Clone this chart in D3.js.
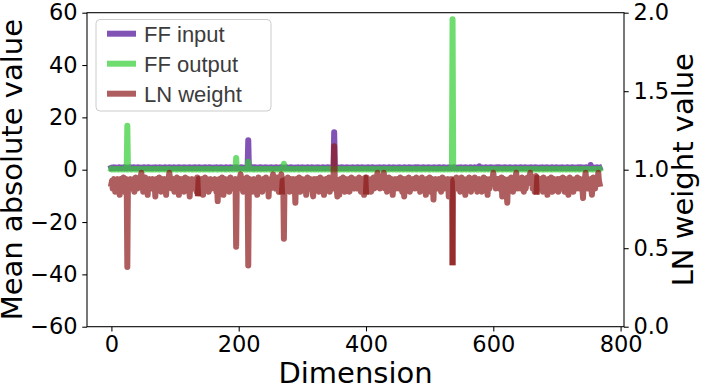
<!DOCTYPE html>
<html>
<head>
<meta charset="utf-8">
<script src="https://d3js.org/d3.v7.min.js"></script>
<style>
  body { margin: 0; background: #fff; }
  svg { display: block; }
</style>
</head>
<body>
<div id="chart"></div>
<script>
// Mean absolute value of FF input per hidden dimension (768 dims)
const ffInput = [
  0.7,0.8,0.6,0.7,0.9,0.7,0.6,0.8,0.7,0.7,0.8,0.6,0.9,0.7,0.8,0.7,0.6,0.7,0.8,0.7,0.9,0.6,0.7,0.8,0.7,0.6,0.8,0.7,0.7,0.9,0.6,0.8,
  0.8,0.7,0.6,0.9,0.7,0.8,0.7,0.6,0.8,0.7,0.9,0.7,0.6,0.8,0.7,0.7,0.8,0.6,0.7,0.9,0.7,0.8,0.6,0.7,0.8,0.7,0.9,0.6,0.7,0.8,0.7,0.6,
  0.7,0.6,0.8,0.7,0.7,0.9,0.6,0.8,0.7,0.8,0.6,0.7,0.9,0.7,0.6,0.8,0.7,0.7,0.8,0.6,0.9,0.7,0.8,0.7,0.6,0.7,0.8,0.9,0.7,0.6,0.8,0.7,
  0.8,0.6,0.9,0.7,0.7,0.8,0.6,0.7,0.8,0.7,0.9,0.6,0.7,0.8,0.7,0.6,0.7,0.8,0.9,0.7,0.6,0.8,0.7,0.7,0.8,0.6,0.7,0.9,0.8,0.7,0.6,0.7,
  0.8,0.7,0.6,0.9,0.7,0.8,0.7,0.6,0.8,0.7,0.9,0.7,0.6,0.8,0.7,0.7,0.8,0.6,0.7,0.9,0.7,0.8,0.6,0.7,0.8,0.7,0.9,0.6,0.7,0.8,0.7,0.6,
  0.7,0.6,0.8,0.7,0.7,0.9,0.6,0.8,0.7,0.8,0.6,0.7,0.9,0.7,0.6,0.8,0.7,0.7,0.8,0.6,0.9,0.7,0.8,0.7,0.6,0.7,0.8,0.9,0.7,0.6,0.8,0.7,
  0.7,0.8,0.6,0.7,0.9,0.7,0.6,0.8,0.7,0.7,0.8,0.6,0.9,0.7,0.8,0.7,0.6,0.7,0.8,0.7,0.9,0.6,0.7,11.3,0.7,0.6,0.8,0.7,0.7,0.9,0.6,0.8,
  0.8,0.6,0.9,0.7,0.7,0.8,0.6,0.7,0.8,0.7,0.9,0.6,0.7,0.8,0.7,0.6,0.7,0.8,0.9,0.7,0.6,0.8,0.7,0.7,0.8,0.6,0.7,0.9,0.8,0.7,0.6,0.7,
  0.8,0.7,0.6,0.9,0.7,0.8,0.7,0.6,0.8,0.7,0.9,0.7,0.6,0.8,0.7,0.7,0.8,0.6,0.7,0.9,0.7,0.8,0.6,0.7,0.8,0.7,0.9,0.6,0.7,0.8,0.7,0.6,
  0.7,0.6,0.8,0.7,0.7,0.9,0.6,0.8,0.7,0.8,0.6,0.7,0.9,0.7,0.6,0.8,0.7,0.7,0.8,0.6,0.9,0.7,0.8,0.7,0.6,0.7,0.8,0.9,0.7,0.6,0.8,0.7,
  0.7,0.8,0.6,0.7,0.9,0.7,0.6,0.8,0.7,0.7,0.8,0.6,0.9,0.7,0.8,0.7,0.6,0.7,0.8,0.7,0.9,0.6,0.7,0.8,0.7,0.6,0.8,0.7,0.7,0.9,14.3,0.8,
  0.8,0.6,0.9,0.7,0.7,0.8,0.6,0.7,0.8,0.7,0.9,0.6,0.7,0.8,0.7,0.6,0.7,0.8,0.9,0.7,0.6,0.8,0.7,0.7,0.8,0.6,0.7,0.9,0.8,0.7,0.6,0.7,
  0.8,0.7,0.6,0.9,0.7,0.8,0.7,0.6,0.8,0.7,0.9,0.7,0.6,0.8,0.7,0.7,0.8,0.6,0.7,0.9,0.7,0.8,0.6,0.7,0.8,0.7,0.9,0.6,0.7,0.8,0.7,0.6,
  0.7,0.6,0.8,0.7,0.7,0.9,0.6,0.8,0.7,0.8,0.6,0.7,0.9,0.7,0.6,0.8,0.7,0.7,0.8,0.6,0.9,0.7,0.8,0.7,0.6,0.7,0.8,0.9,0.7,0.6,0.8,0.7,
  0.7,0.8,0.6,0.7,0.9,0.7,0.6,0.8,0.7,0.7,0.8,0.6,0.9,0.7,0.8,0.7,0.6,0.7,0.8,0.7,0.9,0.6,0.7,0.8,0.7,0.6,0.8,0.7,0.7,0.9,0.6,0.8,
  0.8,0.6,0.9,0.7,0.7,0.8,0.6,0.7,0.8,0.7,0.9,0.6,0.7,0.8,0.7,0.6,0.7,0.8,0.9,0.7,0.6,0.8,0.7,0.7,0.8,0.6,0.7,0.9,0.8,0.7,0.6,0.7,
  0.8,0.7,0.6,0.9,0.7,0.8,0.7,0.6,0.8,0.7,0.9,0.7,0.6,0.8,0.7,0.7,0.8,0.6,0.7,0.9,0.7,0.8,0.6,0.7,0.8,0.7,0.9,0.6,0.7,0.8,0.7,0.6,
  0.7,0.6,0.8,0.7,0.7,0.9,0.6,0.8,0.7,0.8,0.6,0.7,0.9,0.7,0.6,0.8,0.7,0.7,0.8,0.6,0.9,0.7,0.8,0.7,0.6,0.7,0.8,0.9,0.7,0.6,0.8,0.7,
  0.7,0.8,1.3,0.7,0.9,0.7,0.6,0.8,0.7,0.7,0.8,0.6,0.9,0.7,0.8,0.7,0.6,0.7,0.8,0.7,0.9,0.6,0.7,0.8,0.7,0.6,0.8,0.7,0.7,0.9,0.6,0.8,
  0.8,0.6,0.9,0.7,0.7,0.8,0.6,0.7,0.8,0.7,0.9,0.6,0.7,0.8,0.7,0.6,0.7,0.8,0.9,0.7,0.6,0.8,0.7,0.7,0.8,0.6,0.7,0.9,0.8,0.7,0.6,0.7,
  0.8,0.7,0.6,0.9,0.7,0.8,0.7,0.6,0.8,0.7,0.9,0.7,0.6,0.8,0.7,0.7,0.8,0.6,0.7,0.9,0.7,0.8,0.6,0.7,0.8,0.7,0.9,0.6,0.7,0.8,0.7,0.6,
  0.7,0.6,0.8,0.7,0.7,0.9,0.6,0.8,0.7,0.8,0.6,0.7,0.9,0.7,0.6,0.8,0.7,0.7,0.8,0.6,0.9,0.7,0.8,0.7,0.6,0.7,0.8,0.9,0.7,0.6,0.8,0.7,
  0.7,0.8,0.6,0.7,0.9,0.7,0.6,0.8,0.7,0.7,0.8,0.6,0.9,0.7,0.8,0.7,0.6,0.7,0.8,0.7,0.9,0.6,0.7,0.8,0.7,0.6,0.8,0.7,0.7,0.9,0.6,0.8,
  0.8,0.6,0.9,0.7,0.7,0.8,0.6,0.7,0.8,0.7,0.9,0.6,0.7,0.8,0.7,0.6,0.7,1.8,0.9,0.7,0.6,0.8,0.7,0.7,0.8,0.6,0.7,0.9,0.8,0.7,0.6,0.7
];

// Mean absolute value of FF output per dimension
const ffOutput = [
  0.2,0.1,0.2,0.3,0.2,0.1,0.2,0.2,0.3,0.1,0.2,0.2,0.1,0.3,0.2,0.2,0.1,0.2,0.3,0.2,0.1,0.2,0.2,0.3,0.1,16.8,0.2,0.1,0.3,0.2,0.2,0.1,
  0.1,0.2,0.3,0.2,0.2,0.1,0.3,0.2,0.1,0.2,0.2,0.3,0.2,0.1,0.2,0.3,0.2,0.2,0.1,0.2,0.3,0.1,0.2,0.2,0.3,0.2,0.1,0.2,0.2,0.3,0.1,0.2,
  0.2,0.1,0.2,0.3,0.2,0.1,0.2,0.2,0.3,0.1,0.2,0.2,0.1,0.3,0.2,0.2,0.1,0.2,0.3,0.2,0.1,0.2,0.2,0.3,0.1,0.2,0.2,0.1,0.3,0.2,0.2,0.1,
  0.1,0.2,0.3,0.2,0.2,0.1,0.3,0.2,0.1,0.2,0.2,0.3,0.2,0.1,0.2,0.3,0.2,0.2,0.1,0.2,0.3,0.1,0.2,0.2,0.3,0.2,0.1,0.2,0.2,0.3,0.1,0.2,
  0.2,0.1,0.2,0.3,0.2,0.1,0.2,0.2,0.3,0.1,0.2,0.2,0.1,0.3,0.2,0.2,0.1,0.2,0.3,0.2,0.1,0.2,0.2,0.3,0.1,0.2,0.2,0.1,0.3,0.2,0.2,0.1,
  0.1,0.2,0.3,0.2,0.2,0.1,0.3,0.2,0.1,0.2,0.2,0.3,0.2,0.1,0.2,0.3,0.2,0.2,0.1,0.2,0.3,0.1,0.2,0.2,0.3,0.2,0.1,0.2,0.2,0.3,0.1,0.2,
  0.1,0.2,0.3,0.2,4.5,0.1,0.3,0.2,0.1,0.2,0.2,0.3,0.2,0.1,0.2,0.3,0.2,0.2,0.1,0.2,0.3,0.1,0.2,3.0,0.3,0.2,0.1,0.2,0.2,0.3,0.1,0.2,
  0.2,0.1,0.2,0.3,0.2,0.1,0.2,0.2,0.3,0.1,0.2,0.2,0.1,0.3,0.2,0.2,0.1,0.2,0.3,0.2,0.1,0.2,0.2,0.3,0.1,0.2,0.2,0.1,0.3,0.2,0.2,0.1,
  0.2,0.1,0.2,0.3,0.2,0.1,0.2,0.2,0.3,0.1,0.2,0.2,0.1,0.3,0.2,2.3,0.1,0.2,0.3,0.2,0.1,0.2,0.2,0.3,0.1,0.2,0.2,0.1,0.3,0.2,0.2,0.1,
  0.1,0.2,0.3,0.2,0.2,0.1,0.3,0.2,0.1,0.2,0.2,0.3,0.2,0.1,0.2,0.3,0.2,0.2,0.1,0.2,0.3,0.1,0.2,0.2,0.3,0.2,0.1,0.2,0.2,0.3,0.1,0.2,
  0.2,0.1,0.2,0.3,0.2,0.1,0.2,0.2,0.3,0.1,0.2,0.2,0.1,0.3,0.2,0.2,0.1,0.2,0.3,0.2,0.1,0.2,0.2,0.3,0.1,0.2,0.2,0.1,0.3,0.2,0.2,0.1,
  0.1,0.2,0.3,0.2,0.2,0.1,0.3,0.2,0.1,0.2,0.2,0.3,0.2,0.1,0.2,0.3,0.2,0.2,0.1,0.2,0.3,0.1,0.2,0.2,0.3,0.2,0.1,0.2,0.2,0.3,0.1,0.2,
  0.2,0.1,0.2,0.3,0.2,0.1,0.2,0.2,0.3,0.1,0.2,0.2,0.1,0.3,0.2,0.2,0.1,0.2,0.3,0.2,0.1,0.2,0.2,0.3,0.1,0.2,0.2,0.1,0.3,0.2,0.2,0.1,
  0.1,0.2,0.3,0.2,0.2,0.1,0.3,0.2,0.1,0.2,0.2,0.3,0.2,0.1,0.2,0.3,0.2,0.2,0.1,0.2,0.3,0.1,0.2,0.2,0.3,0.2,0.1,0.2,0.2,0.3,0.1,0.2,
  0.2,0.1,0.2,0.3,0.2,0.1,0.2,0.2,0.3,0.1,0.2,0.2,0.1,0.3,0.2,0.2,0.1,0.2,0.3,0.2,0.1,0.2,0.2,0.3,0.1,0.2,0.2,0.1,0.3,0.2,0.2,0.1,
  0.1,0.2,0.3,0.2,0.2,0.1,0.3,0.2,0.1,0.2,0.2,0.3,0.2,0.1,0.2,0.3,0.2,0.2,0.1,0.2,0.3,0.1,0.2,0.2,0.3,0.2,0.1,0.2,0.2,0.3,0.1,0.2,
  0.2,0.1,0.2,0.3,0.2,0.1,0.2,0.2,0.3,0.1,0.2,0.2,0.1,0.3,0.2,0.2,0.1,0.2,0.3,0.2,0.1,0.2,0.2,0.3,57.5,0.2,0.2,0.1,0.3,0.2,0.2,0.1,
  0.1,0.2,0.3,0.2,0.2,0.1,0.3,0.2,0.1,0.2,0.2,0.3,0.2,0.1,0.2,0.3,0.2,0.2,0.1,0.2,0.3,0.1,0.2,0.2,0.3,0.2,0.1,0.2,0.2,0.3,0.1,0.2,
  0.2,0.1,0.2,0.3,0.2,0.1,0.2,0.2,0.3,0.1,0.2,0.2,0.1,0.3,0.2,0.2,0.1,0.2,0.3,0.2,0.1,0.2,0.2,0.3,0.1,0.2,0.2,0.1,0.3,0.2,0.2,0.1,
  0.1,0.2,0.3,0.2,0.2,0.1,0.3,0.2,0.1,0.2,0.2,0.3,0.2,0.1,0.2,0.3,0.2,0.2,0.1,0.2,0.3,0.1,0.2,0.2,0.3,0.2,0.1,0.2,0.2,0.3,0.1,0.2,
  0.2,0.1,0.2,0.3,0.2,0.1,0.2,0.2,0.3,0.1,0.2,0.2,0.1,0.3,0.2,0.2,0.1,0.2,0.3,0.2,0.1,0.2,0.2,0.3,0.1,0.2,0.2,0.1,0.3,0.2,0.2,0.1,
  0.1,0.2,0.3,0.2,0.2,0.1,0.3,0.2,0.1,0.2,0.2,0.3,0.2,0.1,0.2,0.3,0.2,0.2,0.1,0.2,0.3,0.1,0.2,0.2,0.3,0.2,0.1,0.2,0.2,0.3,0.1,0.2,
  0.2,0.1,0.2,0.3,0.2,0.1,0.2,0.2,0.3,0.1,0.2,0.2,0.1,0.3,0.2,0.2,0.1,0.2,0.3,0.2,0.1,0.2,0.2,0.3,0.1,0.2,0.2,0.1,0.3,0.2,0.2,0.1,
  0.1,0.2,0.3,0.2,0.2,0.1,0.3,0.2,0.1,0.2,0.2,0.3,0.2,0.1,0.2,0.3,0.2,0.2,0.1,0.2,0.3,0.1,0.2,0.2,0.3,0.2,0.1,0.2,0.2,0.3,0.1,0.2
];

// LayerNorm weight per dimension (right axis)
const lnWeight = [
  0.91,0.93,0.88,0.92,0.94,0.91,0.86,0.93,0.92,0.88,0.94,0.93,0.91,0.84,0.92,0.94,0.88,0.93,0.91,0.95,0.92,0.86,0.93,0.91,0.94,0.38,0.92,0.88,0.93,0.91,0.94,0.92,
  0.88,0.93,0.91,0.94,0.86,0.92,0.95,0.91,0.93,0.88,0.92,0.94,0.91,0.93,0.95,0.98,0.94,0.91,0.86,0.93,0.92,0.95,0.88,0.92,0.94,0.84,0.93,0.91,0.94,0.92,0.88,0.93,
  0.92,0.94,0.88,0.93,0.91,0.83,0.92,0.94,0.93,0.88,0.92,0.95,0.91,0.93,0.86,0.92,0.94,0.91,0.93,0.88,0.94,0.92,0.84,0.93,0.91,0.94,0.95,0.98,0.95,0.91,0.93,0.88,
  0.93,0.91,0.94,0.86,0.92,0.88,0.93,0.95,0.91,0.92,0.84,0.93,0.94,0.88,0.92,0.91,0.94,0.93,0.86,0.92,0.95,0.91,0.93,0.88,0.92,0.94,0.91,0.83,0.93,0.92,0.88,0.94,
  0.92,0.88,0.93,0.91,0.94,0.92,0.86,0.95,0.85,0.94,0.91,0.93,0.88,0.92,0.94,0.91,0.84,0.93,0.92,0.95,0.88,0.93,0.91,0.94,0.92,0.86,0.93,0.91,0.94,0.88,0.92,0.93,
  0.91,0.93,0.88,0.94,0.92,0.86,0.91,0.80,0.93,0.92,0.94,0.88,0.93,0.91,0.95,0.92,0.84,0.93,0.91,0.94,0.88,0.92,0.93,0.91,0.94,0.86,0.92,0.95,0.91,0.93,0.88,0.92,
  0.93,0.88,0.92,0.94,0.51,0.93,0.91,0.94,0.88,0.92,0.95,0.97,0.94,0.91,0.93,0.86,0.92,0.94,0.88,0.93,0.91,0.95,0.92,0.39,0.93,0.88,0.94,0.91,0.92,0.86,0.93,0.91,
  0.94,0.92,0.88,0.93,0.91,0.84,0.93,0.95,0.92,0.88,0.94,0.91,0.93,0.86,0.92,0.94,0.91,0.93,0.88,0.95,0.92,0.91,0.94,0.83,0.93,0.92,0.88,0.94,0.91,0.95,0.97,0.94,
  0.92,0.94,0.88,0.93,0.91,0.95,0.92,0.86,0.93,0.91,0.95,0.97,0.86,0.93,0.92,0.56,0.93,0.91,0.94,0.88,0.92,0.95,0.91,0.93,0.86,0.92,0.94,0.88,0.93,0.91,0.94,0.92,
  0.91,0.79,0.92,0.94,0.88,0.93,0.91,0.95,0.92,0.86,0.93,0.91,0.94,0.88,0.92,0.93,0.91,0.94,0.84,0.92,0.95,0.91,0.93,0.88,0.92,0.94,0.91,0.93,0.86,0.83,0.92,0.94,
  0.93,0.88,0.92,0.94,0.91,0.93,0.86,0.92,0.95,0.91,0.93,0.88,0.94,0.92,0.84,0.93,0.91,0.94,0.88,0.92,0.93,0.91,0.95,0.86,0.92,0.94,0.91,0.93,0.88,0.95,1.15,0.93,
  0.91,0.94,0.88,0.83,0.92,0.93,0.84,0.91,0.94,0.92,0.88,0.93,0.95,0.91,0.92,0.86,0.94,0.93,0.88,0.92,0.91,0.94,0.86,0.93,0.92,0.95,0.88,0.91,0.93,0.94,0.88,0.92,
  0.93,0.91,0.94,0.88,0.92,0.95,0.91,0.93,0.86,0.92,0.94,0.88,0.93,0.84,0.94,0.95,0.86,0.95,0.92,0.91,0.94,0.88,0.93,0.92,0.86,0.94,0.91,0.93,0.95,0.88,0.92,0.94,
  0.92,0.95,0.98,0.94,0.91,0.93,0.88,0.92,0.94,0.91,0.93,0.95,0.98,0.93,0.88,0.92,0.94,0.86,0.93,0.91,0.95,0.92,0.88,0.93,0.91,0.94,0.84,0.92,0.93,0.91,0.94,0.88,
  0.93,0.91,0.94,0.92,0.88,0.93,0.95,0.91,0.92,0.86,0.93,0.94,0.83,0.92,0.91,0.94,0.88,0.93,0.92,0.95,0.91,0.86,0.93,0.94,0.88,0.92,0.91,0.94,0.93,0.88,0.92,0.95,
  0.91,0.93,0.88,0.94,0.92,0.86,0.93,0.91,0.95,0.92,0.88,0.94,0.91,0.93,0.84,0.92,0.94,0.88,0.93,0.91,0.95,0.92,0.86,0.93,0.91,0.94,0.81,0.92,0.93,0.88,0.94,0.91,
  0.93,0.88,0.92,0.94,0.91,0.93,0.86,0.92,0.95,0.91,0.93,0.88,0.94,0.92,0.91,0.93,0.88,0.94,0.83,0.92,0.93,0.91,0.94,0.92,0.41,0.93,0.88,0.94,0.91,0.92,0.95,0.88,
  0.92,0.94,0.91,0.93,0.86,0.92,0.95,0.88,0.93,0.91,0.94,0.92,0.84,0.93,0.91,0.94,0.88,0.92,0.95,0.91,0.93,0.86,0.92,0.94,0.91,0.93,0.88,0.95,0.92,0.91,0.94,0.86,
  0.93,0.91,0.94,0.88,0.92,0.93,0.86,0.94,0.91,0.95,0.92,0.88,0.93,0.91,0.94,0.84,0.92,0.93,0.88,0.94,0.91,0.93,0.92,0.95,0.98,0.94,0.91,0.93,0.88,0.92,0.94,0.91,
  0.92,0.94,0.88,0.93,0.91,0.95,0.83,0.92,0.93,0.88,0.94,0.91,0.92,0.84,0.79,0.93,0.91,0.94,0.88,0.92,0.95,0.91,0.93,0.86,0.92,0.94,0.91,0.95,0.98,0.93,0.88,0.92,
  0.94,0.91,0.93,0.88,0.92,0.95,0.91,0.93,0.86,0.92,0.94,0.88,0.93,0.91,0.95,0.92,0.93,0.95,0.98,0.94,0.91,0.93,0.88,0.92,0.94,0.86,0.93,0.96,0.86,0.95,0.92,0.91,
  0.93,0.88,0.92,0.94,0.91,0.93,0.86,0.95,0.92,0.88,0.94,0.91,0.93,0.84,0.92,0.94,0.88,0.93,0.91,0.95,0.92,0.86,0.93,0.91,0.94,0.88,0.92,0.93,0.91,0.94,0.86,0.92,
  0.94,0.91,0.93,0.88,0.92,0.95,0.91,0.93,0.86,0.92,0.94,0.88,0.93,0.91,0.84,0.92,0.95,0.91,0.93,0.88,0.94,0.92,0.86,0.93,0.91,0.94,0.88,0.92,0.95,0.91,0.93,0.88,
  0.92,0.94,0.91,0.93,0.88,0.82,0.93,0.92,0.95,0.98,0.93,0.91,0.94,0.88,0.92,0.93,0.91,0.94,0.88,0.84,0.92,0.95,0.91,0.93,0.88,0.92,0.94,0.91,0.95,0.98,0.93,0.91
];

// the LN line was rendered in pieces; the shared vertices show up darker
const lnChunkBreaks = [136, 268, 400, 536, 668];

const seriesNames = ['FF input', 'FF output', 'LN weight'];
const xTicks = [0, 200, 400, 600, 800];
const leftTicks = [-60, -40, -20, 0, 20, 40, 60];
const rightTicks = [0, 0.5, 1.0, 1.5, 2.0];

class DimensionChart {
    constructor(_config) {
        this.config = {
            parentElement: _config.parentElement,
            containerWidth: 706,
            containerHeight: 388,
            plot: { left: 87, right: 624, top: 12.7, bottom: 326.7 }
        };
        this.colors = {
            'FF input': '#4b0a96',
            'FF output': '#32cd32',
            'LN weight': '#8b1a1a'
        };
        this.lineAlpha = 0.7;
        this.lineWidth = 6;
        this.initVis();
    }

    initVis() {
        let vis = this;
        const p = vis.config.plot;

        vis.svg = d3.select(vis.config.parentElement).append('svg')
            .attr('width', vis.config.containerWidth)
            .attr('height', vis.config.containerHeight)
            .style('background', '#fff');

        // matplotlib style 5% margins around 0..767
        const n = lnWeight.length - 1;
        vis.x = d3.scaleLinear().domain([-0.05 * n, n * 1.05]).range([p.left, p.right]);
        vis.yLeft = d3.scaleLinear().domain([-60, 60]).range([p.bottom, p.top]);
        vis.yRight = d3.scaleLinear().domain([0, 2]).range([p.bottom, p.top]);

        vis.renderVis();
    }

    drawLine(data, yScale, color, className) {
        let vis = this;
        const line = d3.line()
            .x(d => vis.x(d.i))
            .y(d => yScale(d.v));
        vis.svg.append('path')
            .datum(data)
            .attr('class', className)
            .attr('d', line)
            .attr('fill', 'none')
            .attr('stroke', color)
            .attr('stroke-opacity', vis.lineAlpha)
            .attr('stroke-width', vis.lineWidth)
            .attr('stroke-linejoin', 'round')
            .attr('stroke-linecap', 'square');
    }

    renderVis() {
        let vis = this;
        const p = vis.config.plot;
        const toPts = arr => arr.map((v, i) => ({ i: i, v: v }));

        vis.drawLine(toPts(ffInput), vis.yLeft, vis.colors['FF input'], 'ff-input');
        vis.drawLine(toPts(ffOutput), vis.yLeft, vis.colors['FF output'], 'ff-output');

        // LN weight on twin axis, in chunks sharing end vertices
        const lnPts = toPts(lnWeight);
        const bounds = [0, ...lnChunkBreaks, lnPts.length - 1];
        for (let k = 0; k < bounds.length - 1; k++) {
            vis.drawLine(lnPts.slice(bounds[k], bounds[k + 1] + 1), vis.yRight, vis.colors['LN weight'], 'ln-weight');
        }

        const font = 'DejaVu Sans, sans-serif';
        const tickLen = 4.7;
        const styleAxis = g => {
            g.select('.domain').remove();
            g.selectAll('.tick line').attr('stroke', '#000').attr('stroke-width', 1.07);
            g.selectAll('.tick text').attr('fill', '#000');
            g.attr('font-family', font).attr('font-size', 22.5);
        };

        vis.svg.append('g')
            .attr('transform', `translate(0,${p.bottom})`)
            .call(d3.axisBottom(vis.x).tickValues(xTicks).tickSize(tickLen).tickPadding(4.7))
            .call(styleAxis);

        vis.svg.append('g')
            .attr('transform', `translate(${p.left},0)`)
            .call(d3.axisLeft(vis.yLeft).tickValues(leftTicks).tickSize(tickLen).tickPadding(4.7))
            .call(styleAxis);

        vis.svg.append('g')
            .attr('transform', `translate(${p.right},0)`)
            .call(d3.axisRight(vis.yRight).tickValues(rightTicks).tickFormat(d3.format('.1f')).tickSize(tickLen).tickPadding(4.7))
            .call(styleAxis);

        // spines
        vis.svg.append('rect')
            .attr('x', p.left)
            .attr('y', p.top)
            .attr('width', p.right - p.left)
            .attr('height', p.bottom - p.top)
            .attr('fill', 'none')
            .attr('stroke', '#000')
            .attr('stroke-width', 1.07);

        // axis titles
        vis.svg.append('text')
            .attr('x', (p.left + p.right) / 2)
            .attr('y', 383)
            .attr('text-anchor', 'middle')
            .attr('font-family', font)
            .attr('font-size', 29)
            .text('Dimension');

        vis.svg.append('text')
            .attr('transform', `translate(22,${(p.top + p.bottom) / 2}) rotate(-90)`)
            .attr('text-anchor', 'middle')
            .attr('font-family', font)
            .attr('font-size', 29)
            .text('Mean absolute value');

        vis.svg.append('text')
            .attr('transform', `translate(693,${(p.top + p.bottom) / 2}) rotate(-90)`)
            .attr('text-anchor', 'middle')
            .attr('font-family', font)
            .attr('font-size', 29)
            .text('LN weight value');

        // legend
        const legend = vis.svg.append('g').attr('transform', 'translate(96,19.5)');
        legend.append('rect')
            .attr('width', 175)
            .attr('height', 91.5)
            .attr('rx', 4)
            .attr('fill', '#fff')
            .attr('fill-opacity', 0.8)
            .attr('stroke', '#cccccc')
            .attr('stroke-width', 1);

        const items = legend.selectAll('.legend-item')
            .data(seriesNames)
            .enter().append('g')
            .attr('class', 'legend-item')
            .attr('transform', (d, i) => `translate(0,${14.2 + i * 30})`);

        items.append('line')
            .attr('x1', 11)
            .attr('x2', 40)
            .attr('stroke', d => vis.colors[d])
            .attr('stroke-opacity', vis.lineAlpha)
            .attr('stroke-width', vis.lineWidth);

        items.append('text')
            .attr('x', 48)
            .attr('y', 8.2)
            .attr('font-family', 'Liberation Sans, Arial, sans-serif')
            .attr('font-size', 22)
            .attr('fill', '#3c3c3c')
            .text(d => d);
    }
}

new DimensionChart({ parentElement: '#chart' });
</script>
</body>
</html>
